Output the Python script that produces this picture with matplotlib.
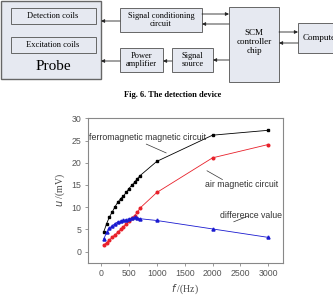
import numpy as np
from matplotlib import pyplot as plt
from matplotlib.patches import Rectangle

# data
f_low = [50, 100, 150, 200, 250, 300, 350, 400, 450, 500, 550, 600, 650, 700]
f_high = [1000, 2000, 3000]

ferro_low = [4.5, 6.3, 7.8, 8.9, 10.1, 11.1, 11.9, 12.5, 13.3, 14.2, 14.9, 15.6, 16.4, 17.1]
ferro_high = [20.3, 26.2, 27.3]
air_low = [1.5, 2.0, 2.6, 3.2, 3.8, 4.4, 5.0, 5.6, 6.2, 6.9, 7.5, 8.1, 8.8, 9.8]
air_high = [13.3, 21.1, 24.1]
diff_low = [2.9, 4.3, 5.3, 5.8, 6.3, 6.7, 6.9, 7.0, 7.2, 7.4, 7.5, 7.7, 7.6, 7.4]
diff_high = [7.0, 5.1, 3.2]

freq = f_low + f_high
ferro = ferro_low + ferro_high
air = air_low + air_high
diff = diff_low + diff_high

W, H = 333, 297
fig = plt.figure(figsize=(W/100, H/100), dpi=100)

# block diagram drawn in pixel coords
bg = fig.add_axes([0, 0, 1, 1])
bg.set_xlim(0, W)
bg.set_ylim(H, 0)
bg.axis('off')

fill = '#e6e9f1'
edge = '#666666'
serif = 'Liberation Serif'

def box(x0, y0, x1, y1, lw=0.7):
    bg.add_patch(Rectangle((x0, y0), x1-x0, y1-y0, facecolor=fill, edgecolor=edge, lw=lw))

def arrow(x0, y, x1):
    bg.annotate('', xy=(x1, y), xytext=(x0, y),
                arrowprops=dict(arrowstyle='-|>', color='#222222', lw=0.6,
                                mutation_scale=5, shrinkA=0, shrinkB=0))

box(1, 0.5, 101, 79, lw=1.0)
box(11, 8, 96, 24)
box(11, 37, 96, 53)
bg.text(53, 16, 'Detection coils', ha='center', va='center', fontsize=6, family=serif)
bg.text(53, 45, 'Excitation coils', ha='center', va='center', fontsize=6, family=serif)
bg.text(53, 67, 'Probe', ha='center', va='center', fontsize=11, family=serif)

box(120, 8, 202, 32)
bg.text(161, 20, 'Signal conditioning\ncircuit', ha='center', va='center', fontsize=6,
        family=serif, linespacing=1.1)
box(229, 7, 279, 82)
bg.text(254, 42, 'SCM\ncontroller\nchip', ha='center', va='center', fontsize=6.5,
        family=serif, linespacing=1.2)
box(298, 23, 345, 53)
bg.text(303, 38, 'Computer', ha='left', va='center', fontsize=6.5, family=serif)
box(120, 48, 163, 72)
bg.text(141.5, 60, 'Power\namplifier', ha='center', va='center', fontsize=6,
        family=serif, linespacing=1.1)
box(172, 48, 213, 72)
bg.text(192.5, 60, 'Signal\nsource', ha='center', va='center', fontsize=6,
        family=serif, linespacing=1.1)

arrow(120, 21, 101)
arrow(202, 14, 229)
arrow(229, 24, 202)
arrow(279, 32, 298)
arrow(298, 43, 279)
arrow(229, 60, 213)
arrow(172, 61, 163)
arrow(120, 61, 101)

bg.text(173, 95, 'Fig. 6. The detection device', ha='center', va='center',
        fontsize=6, family=serif, weight='bold')

# chart
ax = fig.add_axes([87.7/W, 1-262.7/H, (282.7-87.7)/W, (262.7-118.3)/H])
ax.plot(freq, ferro, '-s', color='black', lw=0.6, ms=1.8)
ax.plot(freq, air, '-o', color='#e8202a', lw=0.6, ms=1.9)
ax.plot(freq, diff, '-^', color='#1a1ad0', lw=0.6, ms=2.2)
ax.set_xlim(-240, 3260)
ax.set_ylim(-2.5, 30)
ax.set_xticks([0, 500, 1000, 1500, 2000, 2500, 3000])
ax.set_yticks([0, 5, 10, 15, 20, 25, 30])
for s in ax.spines.values():
    s.set_color('#888888')
    s.set_linewidth(0.8)
ax.tick_params(labelsize=6.3, colors='#888888', labelcolor='#555555',
               length=2.5, width=0.6, pad=2)
for t in ax.get_xticklabels() + ax.get_yticklabels():
    t.set_family('Liberation Sans')

ann = dict(fontsize=6.3, color='#333333', family='Liberation Sans')
lp = dict(arrowstyle='-', color='#333333', lw=0.5, shrinkA=0, shrinkB=0)
ax.text(-225, 25.7, 'ferromagnetic magnetic circuit', va='center', **ann)
ax.annotate('', xy=(1170, 22.2), xytext=(810, 24.2), arrowprops=lp)
ax.text(1870, 15.1, 'air magnetic circuit', va='center', **ann)
ax.annotate('', xy=(2180, 16.2), xytext=(1900, 18.2), arrowprops=lp)
ax.text(2130, 8.1, 'difference value', va='center', **ann)
ax.annotate('', xy=(2380, 6.7), xytext=(2640, 8.0), arrowprops=lp)

ax.set_xlabel('$f$ /(Hz)', fontsize=7, family=serif, color='#444444', labelpad=3)
ax.set_ylabel('$u$ /(mV)', fontsize=7, family=serif, color='#444444', labelpad=3)

plt.savefig('out.png', dpi=100)
